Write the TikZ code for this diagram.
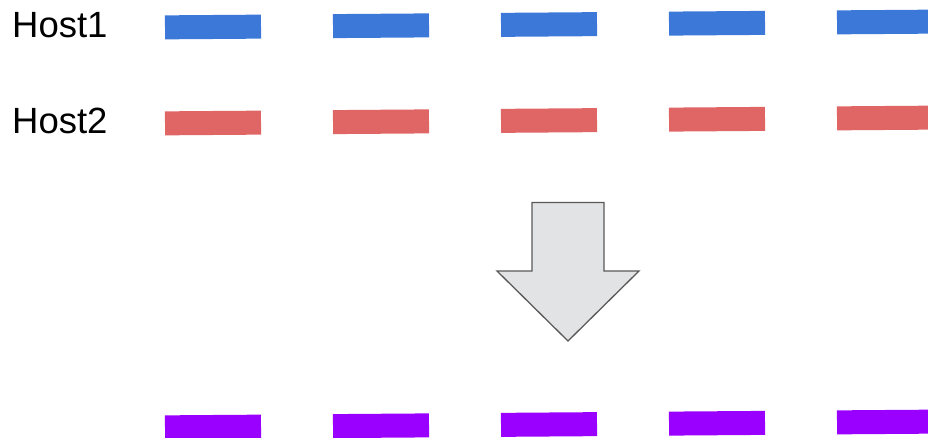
\documentclass[tikz,border=0pt]{standalone}
\usepackage{fontspec}
\setmainfont{Liberation Sans}
\usetikzlibrary{positioning}
\definecolor{HostBlue}  {HTML}{3C78D8}
\definecolor{HostRed}   {HTML}{E06666}
\definecolor{MergePurple}{HTML}{9900FF}
\definecolor{ArrowFill} {HTML}{E2E3E5}
\definecolor{ArrowLine} {HTML}{595959}
\tikzset{
  every node/.style={font=\fontsize{36.5}{40}\selectfont},
  % one packet on a timeline
  pkt/.style={minimum width=96pt, minimum height=24pt, inner sep=0pt,
              rotate=0.43},
  pktA/.style={pkt, fill=HostBlue},
  pktB/.style={pkt, fill=HostRed},
  pktM/.style={pkt, fill=MergePurple},
  lbl/.style={anchor=base west, inner sep=0pt},
}
\begin{document}
\begin{tikzpicture}[x=1pt, y=-1pt]
\useasboundingbox (0,0) rectangle (928,438);
\clip (0,0) rectangle (928,438);
\node[lbl] (h1) at (12,38) {Host1};
\node[lbl] (h2) at (12,134) {Host2};
% Host1 packets
\node[pktA] (a1) at (213,27)    {};
\node[pktA] (a2) at (381,25.75) {};
\node[pktA] (a3) at (549,24.5)  {};
\node[pktA] (a4) at (717,23.25) {};
\node[pktA] (a5) at (885,22)    {};
% Host2 packets
\node[pktB] (b1) at (213,123)    {};
\node[pktB] (b2) at (381,121.75) {};
\node[pktB] (b3) at (549,120.5)  {};
\node[pktB] (b4) at (717,119.25) {};
\node[pktB] (b5) at (885,118)    {};
% merged packets
\node[pktM] (m1) at (213,427)    {};
\node[pktM] (m2) at (381,425.75) {};
\node[pktM] (m3) at (549,424.5)  {};
\node[pktM] (m4) at (717,423.25) {};
\node[pktM] (m5) at (885,422)    {};
% block arrow
\draw[fill=ArrowFill, draw=ArrowLine, line width=1.3pt, line join=miter]
  (532,202.5) -- (604,202.5) -- (604,271) -- (639,271) -- (568,341)
  -- (497,271) -- (532,271) -- cycle;
\end{tikzpicture}
\end{document}
